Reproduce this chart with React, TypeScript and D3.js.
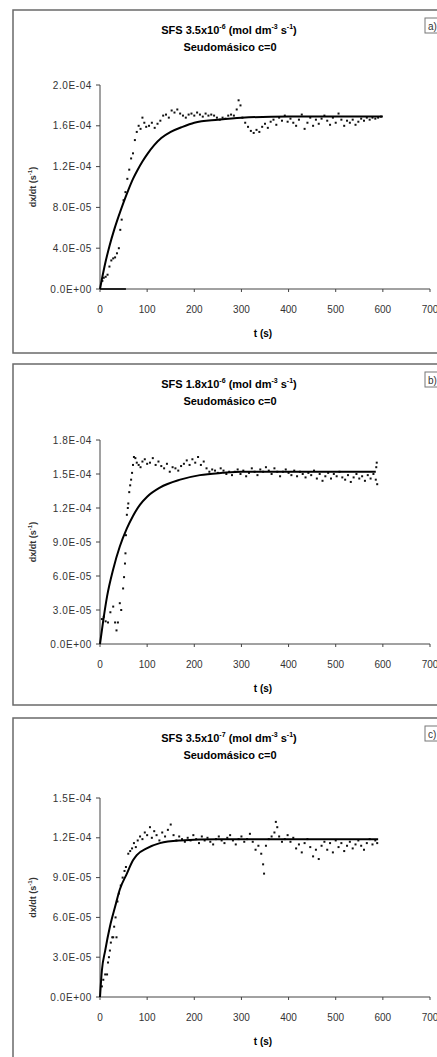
import * as d3 from 'd3';
import React from 'react';

// time axis
const xTicks = [0, 100, 200, 300, 400, 500, 600, 700];

// panel a  (values in 1e-6 s^-1)
const yTicksA = [0, 40, 80, 120, 160, 200];
const yLabelsA = ['0.0E+00', '4.0E-05', '8.0E-05', '1.2E-04', '1.6E-04', '2.0E-04'];
const fitA: [number, number][] = [
  [0, 0], [5, 12], [10, 23], [20, 42], [30, 58], [40, 72], [50, 85], [60, 97], [70, 108],
  [80, 117], [90, 125], [100, 132], [115, 141], [130, 148], [150, 154], [175, 159], [200, 163],
  [250, 166], [300, 168], [400, 169], [600, 169],
];
const baseA: [number, number][] = [[0, 0], [55, 0]];
const dataA: [number, number][] = [
  [5, 8], [8, 11], [12, 12], [16, 14], [20, 22], [24, 28], [28, 30], [32, 31], [36, 35], [40, 40],
  [43, 58], [46, 68], [50, 87], [54, 95], [58, 108], [62, 117], [66, 128], [70, 133], [74, 146],
  [78, 154], [82, 160], [86, 157], [90, 168], [94, 163], [98, 159], [104, 160], [110, 163],
  [116, 158], [122, 162], [128, 165], [134, 170], [140, 171], [146, 168], [152, 175], [158, 173],
  [164, 176], [170, 172], [176, 170], [182, 168], [188, 171], [194, 172], [200, 170], [206, 173],
  [212, 171], [218, 169], [224, 172], [230, 170], [236, 171], [242, 170], [248, 168], [254, 166],
  [260, 168], [266, 167], [272, 170], [278, 171], [284, 170], [290, 176], [294, 185], [298, 180],
  [302, 168], [308, 163], [314, 159], [320, 155], [326, 153], [332, 156], [338, 154], [344, 159],
  [350, 162], [356, 158], [362, 164], [368, 166], [374, 161], [380, 168], [386, 165], [392, 170],
  [398, 164], [404, 167], [410, 163], [416, 160], [422, 166], [428, 171], [434, 157], [440, 163],
  [446, 168], [452, 160], [458, 166], [464, 162], [470, 167], [476, 170], [482, 165], [488, 161],
  [494, 168], [500, 163], [506, 172], [512, 166], [518, 160], [524, 165], [530, 163], [536, 166],
  [542, 161], [548, 164], [554, 167], [560, 165], [566, 168], [572, 166], [578, 168], [584, 167],
  [590, 168], [596, 169],
];

// panel b
const yTicksB = [0, 30, 60, 90, 120, 150, 180];
const yLabelsB = ['0.0E+00', '3.0E-05', '6.0E-05', '9.0E-05', '1.2E-04', '1.5E-04', '1.8E-04'];
const fitB: [number, number][] = [
  [0, 0], [7, 21], [15, 42], [28, 66], [42, 86], [57, 102], [70, 113], [85, 123], [100, 130],
  [127, 138], [170, 145], [212, 149], [260, 151], [300, 152], [585, 152],
];
const dataB: [number, number][] = [
  [4, 22], [8, 24], [12, 20], [17, 19], [22, 28], [28, 33], [32, 19], [35, 12], [38, 19], [42, 36],
  [45, 30], [49, 49], [51, 59], [53, 71], [54, 80], [55, 96], [57, 114], [59, 120], [60, 124],
  [62, 134], [64, 140], [66, 145], [68, 151], [70, 158], [72, 165], [75, 164], [78, 160], [82, 158],
  [86, 156], [90, 161], [95, 163], [100, 159], [106, 160], [112, 164], [118, 158], [124, 161],
  [130, 157], [136, 155], [142, 159], [148, 152], [154, 156], [160, 155], [166, 153], [172, 157],
  [178, 159], [184, 162], [190, 158], [196, 163], [202, 160], [208, 165], [214, 158], [220, 161],
  [226, 155], [232, 152], [238, 154], [244, 153], [250, 151], [256, 155], [262, 153], [268, 150],
  [274, 152], [280, 149], [286, 152], [292, 154], [298, 150], [304, 153], [310, 148], [316, 151],
  [322, 155], [328, 152], [334, 149], [340, 154], [346, 152], [352, 156], [358, 153], [364, 150],
  [370, 155], [376, 152], [382, 148], [388, 152], [394, 154], [400, 151], [406, 149], [412, 153],
  [418, 148], [424, 152], [430, 150], [436, 147], [442, 151], [448, 149], [454, 153], [460, 146],
  [466, 150], [472, 144], [478, 148], [484, 151], [490, 146], [496, 150], [502, 148], [508, 152],
  [514, 147], [520, 145], [526, 149], [532, 143], [538, 147], [544, 150], [550, 146], [556, 148],
  [562, 144], [568, 149], [574, 146], [580, 150], [585, 145], [586, 156], [587, 160], [588, 141],
];

// panel c
const yTicksC = [0, 30, 60, 90, 120, 150];
const yLabelsC = ['0.0E+00', '3.0E-05', '6.0E-05', '9.0E-05', '1.2E-04', '1.5E-04'];
const fitC: [number, number][] = [
  [0, 0], [4, 20], [11, 35], [21, 53], [32, 68], [42, 81], [57, 93], [70, 103], [78, 107],
  [99, 112], [127, 116], [170, 118], [250, 119], [590, 119],
];
const dataC: [number, number][] = [
  [4, 8], [7, 13], [11, 17], [15, 17], [17, 26], [19, 30], [21, 35], [23, 41], [26, 45], [28, 45],
  [30, 53], [33, 60], [35, 45], [37, 72], [40, 78], [44, 84], [48, 90], [52, 95], [55, 98], [60, 108],
  [64, 110], [68, 112], [72, 116], [76, 113], [80, 118], [85, 121], [90, 119], [95, 124], [100, 122],
  [106, 128], [110, 120], [115, 125], [120, 122], [126, 118], [132, 124], [138, 121], [144, 126],
  [150, 130], [156, 122], [162, 118], [168, 121], [174, 119], [180, 117], [186, 120], [192, 118],
  [198, 122], [204, 119], [210, 116], [216, 121], [222, 118], [228, 120], [234, 117], [240, 115],
  [246, 119], [252, 121], [258, 118], [264, 116], [270, 120], [276, 122], [282, 118], [288, 115],
  [294, 119], [300, 121], [306, 117], [312, 119], [318, 123], [324, 117], [330, 111], [336, 114],
  [342, 108], [346, 100], [348, 93], [352, 114], [358, 119], [364, 121], [370, 124], [373, 132],
  [376, 128], [380, 121], [386, 117], [392, 119], [398, 122], [404, 117], [410, 120], [416, 112],
  [422, 115], [428, 109], [434, 116], [440, 119], [446, 113], [452, 106], [458, 111], [464, 104],
  [470, 114], [476, 117], [482, 111], [488, 116], [494, 109], [500, 118], [506, 113], [512, 116],
  [518, 110], [524, 114], [530, 117], [536, 112], [542, 115], [548, 118], [554, 114], [560, 111],
  [566, 116], [572, 119], [578, 115], [584, 118], [588, 116],
];

const font = '"Liberation Sans", Arial, sans-serif';

type PanelProps = {
  frameTop: number; frameH: number; y0: number; yTop: number; yMax: number;
  yTicks: number[]; yLabels: string[]; fit: [number, number][]; data: [number, number][];
  extra?: [number, number][]; coef: string; exp: string; tag: string;
};

function Panel(p: PanelProps) {
  const x = d3.scaleLinear().domain([0, 700]).range([100, 430]);
  const y = d3.scaleLinear().domain([0, p.yMax]).range([p.y0, p.yTop]);
  const line = d3.line<[number, number]>().x(d => x(d[0])).y(d => y(d[1])).curve(d3.curveMonotoneX);
  const titleY = p.frameTop + 24;
  return (
    <g>
      <rect x={13} y={p.frameTop} width={520} height={p.frameH} fill="#fff" stroke="#6a6a6a" strokeWidth={1.5} />
      <rect x={425} y={p.frameTop + 8} width={20} height={15} fill="none" stroke="#777" strokeWidth={1} />
      <text x={428} y={p.frameTop + 20} fontFamily={font} fontSize={10} fill="#333">{p.tag}</text>
      <text x={229} y={titleY} textAnchor="middle" fontFamily={font} fontSize={11} fontWeight="bold">
        SFS {p.coef}x10<tspan fontSize={7} dy={-5}>{p.exp}</tspan>
        <tspan dy={5}> (mol dm</tspan><tspan fontSize={7} dy={-5}>-3</tspan>
        <tspan dy={5}> s</tspan><tspan fontSize={7} dy={-5}>-1</tspan><tspan dy={5}>)</tspan>
      </text>
      <text x={230} y={titleY + 17} textAnchor="middle" fontFamily={font} fontSize={11} fontWeight="bold">
        Seudomásico c=0
      </text>
      {/* axes */}
      <line x1={100} x2={100} y1={p.yTop} y2={p.y0} stroke="#444" strokeWidth={1} />
      <line x1={100} x2={430} y1={p.y0} y2={p.y0} stroke="#444" strokeWidth={1} />
      {p.yTicks.map((t, i) => (
        <g key={t}>
          <line x1={96} x2={100} y1={y(t)} y2={y(t)} stroke="#444" />
          <text x={92} y={y(t) + 3.5} textAnchor="end" fontFamily={font} fontSize={10} letterSpacing={0.6} fill="#333">
            {p.yLabels[i]}
          </text>
        </g>
      ))}
      {xTicks.map(t => (
        <g key={t}>
          <line x1={x(t)} x2={x(t)} y1={p.y0} y2={p.y0 + 3} stroke="#444" />
          <text x={x(t)} y={p.y0 + 24} textAnchor="middle" fontFamily={font} fontSize={10} fill="#333">{t}</text>
        </g>
      ))}
      <text x={263} y={p.y0 + 48} textAnchor="middle" fontFamily={font} fontSize={10} fontWeight="bold">t (s)</text>
      <text transform={`translate(36,${(p.y0 + p.yTop) / 2}) rotate(-90)`} textAnchor="middle"
        fontFamily={font} fontSize={9} fontWeight="bold" fill="#333">
        dx/dt (s<tspan fontSize={6} dy={-4}>-1</tspan><tspan dy={4}>)</tspan>
      </text>
      {/* series */}
      {p.extra && <path d={line(p.extra) || ''} fill="none" stroke="#222" strokeWidth={2} />}
      {p.data.map((d, i) => (
        <rect key={i} x={x(d[0]) - 1} y={y(d[1]) - 1} width={2} height={2} fill="#111" />
      ))}
      <path d={line(p.fit) || ''} fill="none" stroke="#000" strokeWidth={2} />
    </g>
  );
}

export default function App() {
  return (
    <svg width={437} height={1057} style={{ position: 'absolute', left: 0, top: 0, background: '#fff' }}>
      <rect width={437} height={1057} fill="#fff" />
      <Panel frameTop={10} frameH={343} y0={289} yTop={85} yMax={200} yTicks={yTicksA} yLabels={yLabelsA}
        fit={fitA} data={dataA} extra={baseA} coef="3.5" exp="-6" tag="a)" />
      <Panel frameTop={364} frameH={341} y0={644} yTop={440} yMax={180} yTicks={yTicksB} yLabels={yLabelsB}
        fit={fitB} data={dataB} coef="1.8" exp="-6" tag="b)" />
      <Panel frameTop={718} frameH={400} y0={997} yTop={798} yMax={150} yTicks={yTicksC} yLabels={yLabelsC}
        fit={fitC} data={dataC} coef="3.5" exp="-7" tag="c)" />
    </svg>
  );
}
